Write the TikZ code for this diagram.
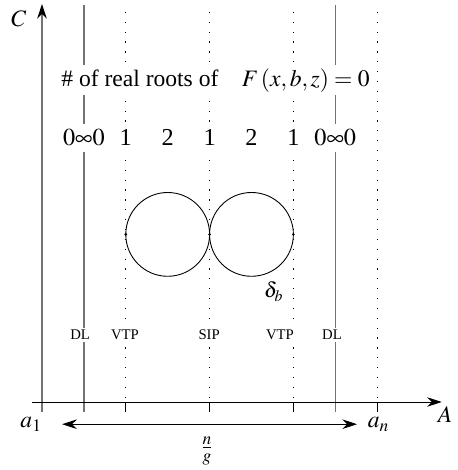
\documentclass[tikz,border=0pt]{standalone}
\usepackage{mathptmx}
\usepackage{fontspec}
\setmainfont{Liberation Serif}
\usetikzlibrary{arrows.meta}
\newcommand{\noktah}[1]{\foreach \p in {#1} \fill (\p) circle (0.035);}

\begin{document}
\begin{tikzpicture}[>={Stealth[length=10pt,width=6.5pt]},
  dl/.style={black!55,line width=0.9pt},
  vt/.style={line width=0.6pt,dash pattern=on 0.8pt off 5.9pt},
  lbl/.style={fill=white,inner sep=1.5pt,font=\fontsize{10}{12}\selectfont},
  num/.style={fill=white,inner sep=4pt,anchor=base,font=\fontsize{16.5}{19}\selectfont},
  big/.style={font=\fontsize{16}{19}\selectfont}]
  \useasboundingbox (-1.002,-1.623) rectangle (9.905,9.594);

  \coordinate (Ctop) at (0,9.5);
  \coordinate (Cbot) at (0,-0.25);
  \coordinate (Aleft) at (-0.24,0);
  \coordinate (Aright) at (9.54,0);
  \coordinate (L) at (3,4);
  \coordinate (R) at (5,4);
  \coordinate (P1) at (2,4);
  \coordinate (P2) at (4,4);
  \coordinate (P3) at (6,4);
  \coordinate (G1) at (0.48,-0.53);
  \coordinate (G2) at (7.52,-0.53);

  % DL lines and dotted lines
  \foreach \x in {1,7} {
    \coordinate (dt\x) at (\x,9.47);
    \coordinate (db\x) at (\x,-0.25);
    \draw[dl] (dt\x) -- (db\x);
  }
  \foreach \x in {2,4,6,8} {
    \coordinate (vt\x) at (\x,9.31);
    \coordinate (vb\x) at (\x,0);
    \coordinate (vk\x) at (\x,-0.25);
    \draw[vt] (vt\x) -- (vb\x);
    \draw[line width=0.6pt] (vb\x) -- (vk\x);
  }

  % axes
  \draw[dl,-{Stealth[black,length=10pt,width=6.5pt]}] (Cbot) -- (Ctop);
  \draw[->,line width=0.6pt] (Aleft) -- (Aright);

  % delta_b
  \draw[line width=0.6pt] (L) circle (1);
  \draw[line width=0.6pt] (R) circle (1);
  \noktah{P1,P2,P3}

  \node[fill=white,inner sep=2pt,anchor=base,font=\fontsize{16}{19}\selectfont] (judul)
    at (4.14,7.54) {\# of real roots of\quad $F\,(x,b,z)=0$};
  \foreach \x/\t [count=\i] in {1/{$0\infty0$},2/1,3/2,4/1,5/2,6/1,7/{$0\infty0$}}
    \node[num] (n\i) at (\x,6.11) {\t};

  \node[lbl] (dl1) at (0.91,1.6) {DL};
  \node[lbl] (vtp1) at (1.98,1.6) {VTP};
  \node[lbl] (sip) at (3.99,1.6) {SIP};
  \node[lbl] (vtp2) at (5.68,1.6) {VTP};
  \node[lbl] (dl2) at (6.92,1.6) {DL};

  \node[font=\fontsize{14.5}{17}\selectfont] (delta) at (5.53,2.63) {$\delta_b$};
  \node[big] (C) at (-0.55,9.14) {$C$};
  \node[big] (A) at (9.62,-0.31) {$A$};
  \node[big,anchor=base] (a1) at (-0.26,-0.62) {$a_1$};
  \node[big,anchor=base] (an) at (8.03,-0.62) {$a_n$};

  \draw[<->,line width=0.6pt] (G1) -- (G2);
  \node[big] (ng) at (3.94,-1.17) {$\frac{n}{g}$};
\end{tikzpicture}
\end{document}
